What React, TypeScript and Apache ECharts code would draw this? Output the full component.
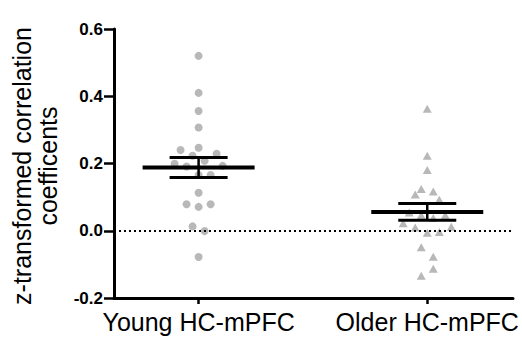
import React, { useEffect, useRef } from "react";
import * as echarts from "echarts";

const groups = ["Young HC-mPFC", "Older HC-mPFC"];
const groupPos = [0, 1];
const yTicks = [-0.2, 0.0, 0.2, 0.4, 0.6];

// values and jitter columns (horizontal spread index)
const youngValues = [0.52, 0.41, 0.356, 0.307, 0.24, 0.247, 0.229, 0.223, 0.208, 0.199, 0.191, 0.193, 0.166, 0.166, 0.113, 0.079, 0.071, 0.079, 0.013, -0.001, -0.078];
const youngCols = [0, 0, 0, 0, -3, 0, 3, -1, 1, -4, -2, 4, 0, 2, 0, -2, 0, 2, -1, 1, 0];
const olderValues = [0.363, 0.223, 0.181, 0.124, 0.108, 0.117, 0.092, 0.054, 0.046, 0.038, 0.046, 0.022, 0.01, 0.012, -0.006, -0.004, -0.049, -0.077, -0.113, -0.134];
const olderCols = [0, 0, 0, -1, -2, 1, 2, -3, -1, 1, 3, -4, -2, 4, 0, 2, -1, 1, 1, -1];

const means = [0.188, 0.056];
const sems = [0.03, 0.025];

const JITTER = 0.0263;
const FONT = "'Liberation Sans', Arial, Helvetica, sans-serif";

export default function App() {
  const ref = useRef<HTMLDivElement>(null);
  useEffect(() => {
    if (!ref.current) return;
    const chart = echarts.init(ref.current, null, { renderer: "svg" });
    const young = youngValues.map((v, i) => [groupPos[0] + youngCols[i] * JITTER, v]);
    const older = olderValues.map((v, i) => [groupPos[1] + olderCols[i] * JITTER, v]);
    const summary = means.map((m, i) => [groupPos[i], m, sems[i]]);
    chart.setOption({
      animation: false,
      textStyle: { fontFamily: FONT },
      grid: { left: 114, right: 9, top: 29, bottom: 39, containLabel: false },
      xAxis: {
        type: "value",
        min: -0.37,
        max: 1.375,
        splitLine: { show: false },
        axisLine: { show: true, onZero: false, lineStyle: { color: "#000", width: 3 } },
        axisTick: { show: true, customValues: groupPos, length: 6, lineStyle: { color: "#000", width: 2.5 } },
        axisLabel: {
          customValues: groupPos,
          formatter: (v: number) => groups[Math.round(v)] ?? "",
          color: "#000",
          fontSize: 25,
          fontFamily: FONT,
          margin: 11,
        },
      },
      yAxis: {
        type: "value",
        min: -0.2,
        max: 0.6,
        interval: 0.2,
        splitLine: { show: false },
        axisLine: { show: true, onZero: false, lineStyle: { color: "#000", width: 3 } },
        axisTick: { show: true, length: 10, lineStyle: { color: "#000", width: 2.5 } },
        axisLabel: {
          formatter: (v: number) => {
            const t = yTicks.find((x) => Math.abs(x - v) < 1e-9);
            return (t ?? v).toFixed(1);
          },
          color: "#000",
          fontSize: 17,
          fontWeight: "bold",
          fontFamily: FONT,
          margin: 11,
        },
      },
      graphic: [
        {
          type: "text",
          x: 35,
          y: 166,
          rotation: Math.PI / 2,
          style: {
            text: "z-transformed correlation\ncoefficents",
            font: `25px ${FONT}`,
            fill: "#000",
            align: "center",
            verticalAlign: "middle",
            lineHeight: 26,
          },
        },
      ],
      series: [
        {
          type: "scatter",
          data: young,
          symbol: "circle",
          symbolSize: 8,
          itemStyle: { color: "#a6a6a6" },
          z: 2,
          markLine: {
            silent: true,
            symbol: "none",
            label: { show: false },
            lineStyle: { color: "#000", type: [2, 3], width: 2 },
            data: [{ yAxis: 0 }],
          },
        },
        {
          type: "scatter",
          data: older,
          symbol: "triangle",
          symbolSize: [9, 8],
          itemStyle: { color: "#a6a6a6" },
          z: 2,
        },
        {
          type: "custom",
          data: summary,
          z: 5,
          renderItem: (params: any, api: any) => {
            const x = api.value(0);
            const m = api.value(1);
            const s = api.value(2);
            const c = api.coord([x, m]);
            const hi = api.coord([x, m + s]);
            const lo = api.coord([x, m - s]);
            return {
              type: "group",
              children: [
                { type: "line", shape: { x1: c[0] - 56, y1: c[1], x2: c[0] + 56, y2: c[1] }, style: { stroke: "#000", lineWidth: 4 } },
                { type: "line", shape: { x1: c[0] - 29, y1: hi[1], x2: c[0] + 29, y2: hi[1] }, style: { stroke: "#000", lineWidth: 3 } },
                { type: "line", shape: { x1: c[0] - 29, y1: lo[1], x2: c[0] + 29, y2: lo[1] }, style: { stroke: "#000", lineWidth: 3 } },
                { type: "line", shape: { x1: c[0], y1: hi[1], x2: c[0], y2: lo[1] }, style: { stroke: "#000", lineWidth: 2.5 } },
              ],
            };
          },
        },
      ],
    });
    return () => chart.dispose();
  }, []);
  return <div ref={ref} style={{ width: 522, height: 337, position: "absolute", left: 0, top: 0 }} />;
}
